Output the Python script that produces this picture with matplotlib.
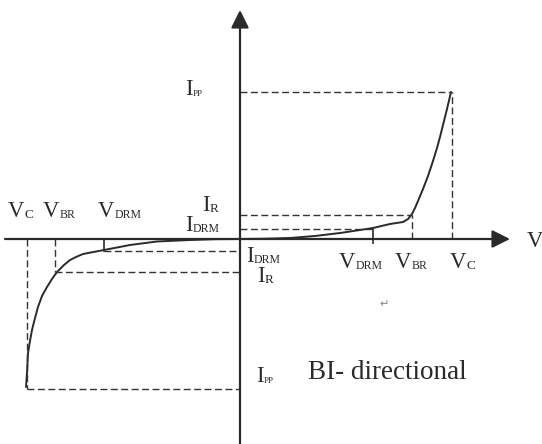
import matplotlib.pyplot as plt

# Curva I-V de um diodo TVS bidirecional (unidades arbitrarias do esquema)
v_pos = [0, 25, 50, 75, 100, 120, 133, 150, 163, 168, 172, 175, 178, 183, 188, 193, 197, 200, 203, 207, 211]
i_pos = [0, 0.3, 1, 3, 6, 9, 11, 15, 17, 20, 25, 31, 38, 50, 63, 78, 91, 102, 114, 130, 147]
v_neg = [0, -25, -50, -83, -110, -136, -157, -164, -170, -176, -183, -188, -193, -198, -202,
         -205, -208, -210, -212, -213, -214]
i_neg = [0, -0.2, -1, -2.5, -6, -11, -15, -18, -21, -26, -33, -40, -48, -57, -68,
         -79, -91, -102, -114, -134, -148]

# Niveis marcados no grafico
vdrm_p, vbr_p, vc_p = 133, 172, 212
idrm_p, ir_p, ipp_p = 10, 24, 147
vdrm_n, vbr_n, vc_n = -136, -185, -213
idrm_n, ir_n, ipp_n = -12, -33, -150

cor = '#2a2a2a'
fonte = 'Liberation Serif'

fig = plt.figure(figsize=(5.42, 4.44), dpi=100)
ax = fig.add_axes([0, 0, 1, 1])
ax.set_xlim(-240, 302)
ax.set_ylim(-205, 239)
ax.axis('off')

# Eixos com setas
seta = dict(arrowstyle='-|>,head_length=0.4,head_width=0.2', mutation_scale=27,
            lw=1.6, color=cor, shrinkA=0, shrinkB=0)
ax.annotate('', xy=(270, 0), xytext=(-235, 0), arrowprops=seta)
ax.annotate('', xy=(0, 229), xytext=(0, -210), arrowprops=seta)

# Curvas
ax.plot(v_pos, i_pos, color=cor, lw=1.4, solid_capstyle='round', solid_joinstyle='round')
ax.plot(v_neg, i_neg, color=cor, lw=1.4, solid_capstyle='round', solid_joinstyle='round')

# Linhas tracejadas de referencia
tr = dict(color='#333333', lw=1.0, ls=(0, (5, 2.5)))
ax.plot([0, vc_p], [ipp_p, ipp_p], **tr)
ax.plot([vc_p, vc_p], [0, ipp_p], **tr)
ax.plot([0, vbr_p], [ir_p, ir_p], **tr)
ax.plot([vbr_p, vbr_p], [0, ir_p], **tr)
ax.plot([0, vdrm_p], [idrm_p, idrm_p], **tr)
ax.plot([vdrm_p, vdrm_p], [-4, idrm_p], color=cor, lw=1.2)

ax.plot([vc_n, 0], [ipp_n, ipp_n], **tr)
ax.plot([vc_n, vc_n], [0, ipp_n], **tr)
ax.plot([vbr_n, 0], [ir_n, ir_n], **tr)
ax.plot([vbr_n, vbr_n], [0, ir_n], **tr)
ax.plot([vdrm_n, 0], [idrm_n, idrm_n], **tr)
ax.plot([vdrm_n, vdrm_n], [0, idrm_n], color=cor, lw=1.2)


# Rotulo com letra principal e subscrito menor
def rotulo(x, y, letra, sub, tam_sub=8.5):
    ax.text(x, y, letra, fontsize=16.3, family=fonte, color=cor, va='baseline', ha='left')
    larg = {'V': 11.8, 'I': 5.6}[letra]
    ax.annotate(sub, xy=(x, y), xytext=(larg, -0.5), textcoords='offset points',
                fontsize=tam_sub, family=fonte, color=cor, va='baseline', ha='left')


rotulo(-232, 22, 'V', 'C', 9.5)
rotulo(-197, 22, 'V', 'BR')
rotulo(-142, 22, 'V', 'DRM')
rotulo(-38, 28, 'I', 'R', 9.5)
rotulo(-55, 8, 'I', 'DRM')
rotulo(6, -23, 'I', 'DRM')
rotulo(17, -43, 'I', 'R', 9.5)
rotulo(99, -29, 'V', 'DRM')
rotulo(155, -29, 'V', 'BR')
rotulo(210, -29, 'V', 'C', 9.5)
rotulo(-55, 144, 'I', 'PP', 6.5)
rotulo(16, -143, 'I', 'PP', 6.5)

ax.text(287, -8, 'V', fontsize=16.3, family=fonte, color=cor, va='baseline', ha='left')
ax.text(68, -140, 'BI- directional', fontsize=19.5, family=fonte, color=cor,
        va='baseline', ha='left')
ax.text(139, -68, '\u21b5', fontsize=8, color='#888888', va='baseline', ha='left')

fig.savefig('out.png', dpi=100)
